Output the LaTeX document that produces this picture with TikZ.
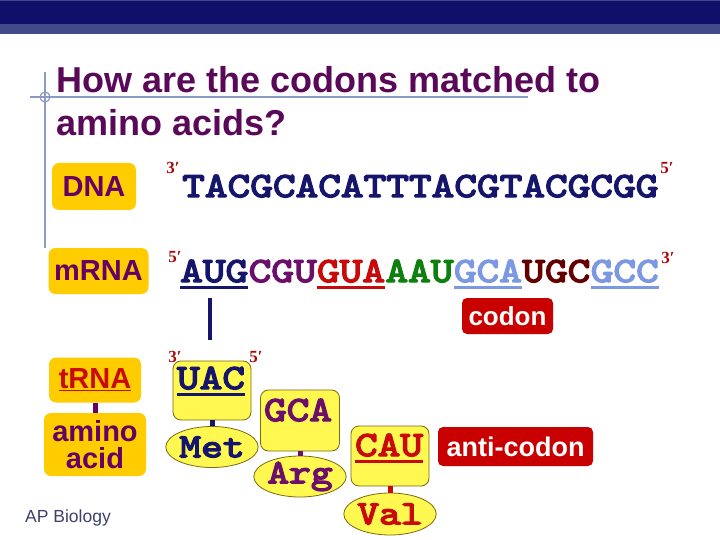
\documentclass[tikz,border=0pt]{standalone}
\usepackage{fontspec}
\setmainfont{Liberation Sans}
\newfontfamily\seqfont{lmmono10-regular.otf}[FakeStretch=1.22,FakeBold=4.2]
\newfontfamily\primefont{Liberation Serif}
\usetikzlibrary{calc,shapes.geometric}
\definecolor{barnavy}{HTML}{0E1069}
\definecolor{barband}{HTML}{434A8A}
\definecolor{ttl}{HTML}{5A0858}
\definecolor{xhair}{HTML}{8A9AC2}
\definecolor{gold}{HTML}{FFCC00}
\definecolor{lblpurple}{HTML}{660066}
\definecolor{navy}{HTML}{15156B}
\definecolor{seqpurple}{HTML}{6B0F6B}
\definecolor{seqred}{HTML}{C80A0A}
\definecolor{seqgreen}{HTML}{0F800F}
\definecolor{seqblue}{HTML}{7D98E3}
\definecolor{seqmaroon}{HTML}{640000}
\definecolor{primered}{HTML}{A80A0A}
\definecolor{tyellow}{HTML}{FFF850}
\definecolor{tborder}{HTML}{7A6A10}
\definecolor{boxred}{HTML}{C80000}
\definecolor{apgray}{HTML}{3C416E}
\tikzset{
  lbl/.style={fill=gold, rounded corners=7pt, text=lblpurple, inner sep=0pt,
    font=\fontsize{29}{29}\selectfont\bfseries, align=center},
  seq/.style={inner sep=0pt, anchor=base west, font=\fontsize{35.4}{40}\selectfont\seqfont},
  seqc/.style={inner sep=0pt, anchor=base, font=\fontsize{35.4}{40}\selectfont\seqfont},
  prime/.style={inner sep=0pt, text=primered, font=\fontsize{17}{17}\selectfont\primefont\bfseries},
  tbox/.style={draw=tborder, line width=0.8pt, fill=tyellow, rounded corners=8pt, inner sep=0pt},
  aabox/.style={ellipse, draw=tborder, line width=0.8pt, fill=tyellow, inner sep=0pt,
    font=\fontsize{34}{34}\selectfont\seqfont},
  redbox/.style={fill=boxred, rounded corners=5pt, text=white, inner sep=0pt,
    font=\fontsize{26}{26}\selectfont\bfseries},
  uline/.style={line width=3pt},
  link/.style={line width=5pt}
}
\begin{document}
\begin{tikzpicture}[x=1pt,y=-1pt]
\useasboundingbox (0,0) rectangle (720,540);
\fill[white] (0,0) rectangle (720,540);
% top bar
\fill[barnavy] (0,0) rectangle (720,24);
\fill[barband] (0,24) rectangle (720,34);
\fill[barband] (0,0) rectangle (720,1.2);
% crosshair
\draw[xhair, line width=1.5pt] (30,97) -- (528,97);
\draw[xhair, line width=1.5pt] (45,72) -- (45,248);
\draw[xhair, line width=1.2pt] (45,97) circle (5);
% title
\node[inner sep=0pt, anchor=base west, text=ttl, font=\fontsize{36}{36}\selectfont\bfseries] (t1) at (56,93) {How are the codons matched to};
\node[inner sep=0pt, anchor=base west, text=ttl, font=\fontsize{36}{36}\selectfont\bfseries] (t2) at (56,136) {amino acids?};
% labels
\node[lbl, minimum width=84, minimum height=47] (dna) at (94,186.5) {DNA};
\node[lbl, minimum width=100, minimum height=46] (mrna) at (98.5,271) {mRNA};
\node[lbl, minimum width=92, minimum height=45, text=seqred] (trna) at (95,380) {\underline{tRNA}};
\node[lbl, minimum width=102, minimum height=63, font=\fontsize{29}{27}\selectfont\bfseries] (amino) at (95,444.5) {amino\\acid};
\draw[link, lblpurple] (trna.south) -- (amino.north);
% DNA sequence
\node[prime] (d3) at (173,168) {3′};
\node[seq, text=navy] (dseq) at (182,197) {TACGCACATTTACGTACGCGG};
\node[prime] (d5) at (667,168) {5′};
% mRNA sequence
\node[prime] (m5) at (175,257) {5′};
\node[seq, text=navy] (c1) at (180,282) {AUG};
\node[seq, text=seqpurple] (c2) at (c1.base east) {CGU};
\node[seq, text=seqred] (c3) at (c2.base east) {GUA};
\node[seq, text=seqgreen] (c4) at (c3.base east) {AAU};
\node[seq, text=seqblue] (c5) at (c4.base east) {GCA};
\node[seq, text=seqmaroon] (c6) at (c5.base east) {UGC};
\node[seq, text=seqblue] (c7) at (c6.base east) {GCC};
\node[prime] (m3) at (668,258) {3′};
\draw[uline, navy] ($(c1.base west)+(0,5.5)$) -- ($(c1.base east)+(0,5.5)$);
\draw[uline, seqred] ($(c3.base west)+(0,5.5)$) -- ($(c3.base east)+(0,5.5)$);
\draw[uline, seqblue] ($(c5.base west)+(0,5.5)$) -- ($(c5.base east)+(0,5.5)$);
\draw[uline, seqblue] ($(c7.base west)+(0,5.5)$) -- ($(c7.base east)+(0,5.5)$);
\coordinate (bartop) at (210,298);
\coordinate (barbot) at (210,340);
\draw[navy, line width=3.5pt] (bartop) -- (barbot);
\node[redbox, minimum width=91, minimum height=36] (codon) at (507.5,316) {codon};
% tRNA 1
\node[prime] (u3) at (175,357) {3′};
\node[prime] (u5) at (256,357) {5′};
\node[tbox, minimum width=78, minimum height=59] (uacbox) at (212,390.5) {};
\node[seqc, text=navy] (uac) at (211,389) {UAC};
\draw[uline, navy] ($(uac.base west)+(0,5.5)$) -- ($(uac.base east)+(0,5.5)$);
\node[aabox, text=navy, minimum width=84, minimum height=41] (met) at (212,447) {Met};
\draw[link, navy] (uacbox.south) -- (met.north);
% tRNA 2
\node[tbox, minimum width=79, minimum height=61] (gcabox) at (300,420.5) {};
\node[seqc, text=seqpurple] (gca) at (298,421) {GCA};
\node[aabox, text=seqpurple, minimum width=86, minimum height=41] (arg) at (300,476.5) {Arg};
\draw[link, seqpurple] (gcabox.south) -- (arg.north);
% tRNA 3
\node[tbox, minimum width=78, minimum height=60] (caubox) at (390,456) {};
\node[seqc, text=seqred] (cau) at (389,456) {CAU};
\draw[uline, seqred] ($(cau.base west)+(0,5.5)$) -- ($(cau.base east)+(0,5.5)$);
\node[aabox, text=seqred, minimum width=85, minimum height=42] (val) at (390,514) {Val};
\draw[link, seqred] (caubox.south) -- (val.north);
\node[redbox, minimum width=155, minimum height=39, font=\fontsize{27}{27}\selectfont\bfseries] (anti) at (515.5,446.5) {anti-codon};
% footer
\node[inner sep=0pt, anchor=base west, text=apgray, font=\fontsize{17.5}{17.5}\selectfont] (ap) at (25,522) {AP Biology};
\end{tikzpicture}
\end{document}
